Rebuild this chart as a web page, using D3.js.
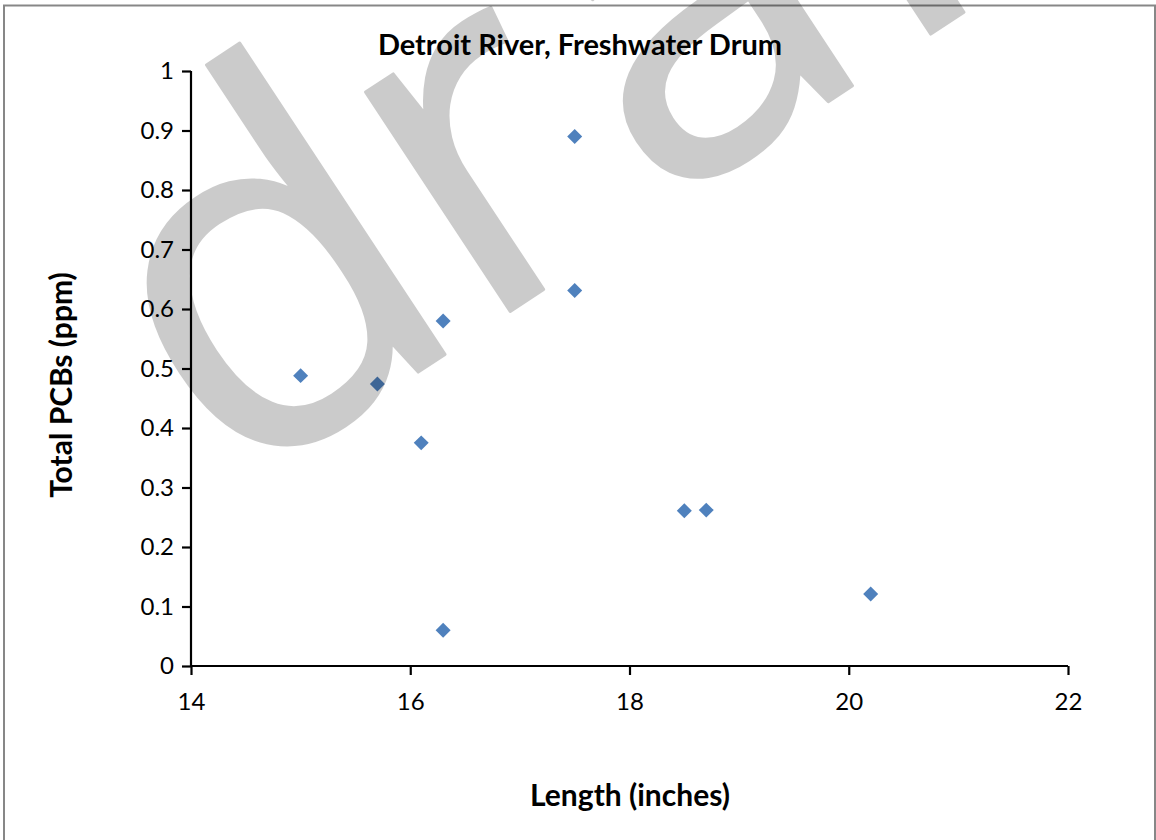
<!DOCTYPE html>
<html>
<head>
<meta charset="utf-8">
<script src="https://cdn.jsdelivr.net/npm/d3@7"></script>
<style>
	body { margin: 0; background: #fff; }
	svg { display: block; }
	.chart text { font-family: Lato, "Open Sans", sans-serif; fill: #000; }
	.axis path, .axis line { stroke: #000; stroke-width: 2.2px; }
</style>
</head>
<body>
<svg class="chart"></svg>
<script>

// fish length (inches) and total PCBs (ppm)
const lengths = [15.0, 15.7, 16.1, 16.3, 16.3, 17.5, 17.5, 18.5, 18.7, 20.2]
const pcbs = [0.488, 0.474, 0.375, 0.580, 0.060, 0.890, 0.631, 0.261, 0.262, 0.121]

const xTicks = [14, 16, 18, 20, 22]
const yTicks = [0, 0.1, 0.2, 0.3, 0.4, 0.5, 0.6, 0.7, 0.8, 0.9, 1]

const title = "Detroit River, Freshwater Drum",
			xTitle = "Length (inches)",
			yTitle = "Total PCBs (ppm)",
			stamp = "draft"

const width = 1156,
			height = 840,
			plot = { left: 191, right: 1068, top: 71, bottom: 666 }

var chart = d3.select(".chart")
		.attr("width", width)
		.attr("height", height)

var x = d3.scaleLinear()
	.domain([14, 22])
	.range([plot.left, plot.right])

var y = d3.scaleLinear()
	.domain([0, 1])
	.range([plot.bottom, plot.top])

// outer frame (no bottom edge visible)
chart.append("path")
	.attr("d", "M4,842 V5.5 H1155 V842")
	.attr("fill", "none")
	.attr("stroke", "#878787")
	.attr("stroke-width", 2)

chart.append("text")
	.attr("x", 580)
	.attr("y", 55)
	.attr("text-anchor", "middle")
	.style("font-size", "29px")
	.style("font-weight", "bold")
	.text(title)

chart.append("g")
		.attr("class", "axis")
		.attr("transform", "translate(" + plot.left + ",0)")
		.call(d3.axisLeft(y).tickValues(yTicks).tickSize(9).tickPadding(8).tickFormat(d => d))

chart.append("g")
		.attr("class", "axis")
		.attr("transform", "translate(0," + plot.bottom + ")")
		.call(d3.axisBottom(x).tickValues(xTicks).tickSize(9).tickPadding(18).tickFormat(d => d))

chart.selectAll(".axis .domain")
	.attr("d", function () {
		return d3.select(this.parentNode).attr("transform").indexOf(",0)") > 0
			? "M0," + plot.top + "V" + plot.bottom
			: "M" + plot.left + ",0H" + plot.right
	})

chart.selectAll(".axis text")
	.style("font-size", "24px")
	.attr("fill", "#000")

chart.append("text")
	.attr("x", 630)
	.attr("y", 806)
	.attr("text-anchor", "middle")
	.style("font-size", "30px")
	.style("font-weight", "bold")
	.text(xTitle)

chart.append("text")
	.attr("transform", "translate(72,385) rotate(-90)")
	.attr("text-anchor", "middle")
	.style("font-size", "30px")
	.style("font-weight", "bold")
	.text(yTitle)

var diamond = d3.symbol().type(d3.symbolSquare).size(112)

chart.append("g")
		.attr("class", "points")
	.selectAll("path")
	.data(d3.zip(lengths, pcbs))
	.enter()
	.append("path")
		.attr("d", diamond)
		.attr("fill", "#4f81bd")
		.attr("transform", d => "translate(" + x(d[0]) + "," + y(d[1]) + ") rotate(45)")

// watermark: letters placed so their stems land where the picture has them
var ctx = document.createElement("canvas").getContext("2d")
ctx.font = "100px 'Open Sans'"
const m = ch => ctx.measureText(ch)

var size = 378 / (m("d").actualBoundingBoxAscent / 100),
		k = size / 100

var xd = -m("d").actualBoundingBoxRight * k,
		xr = 73.4 + m("r").actualBoundingBoxLeft * k,
		xa = 489 - m("a").actualBoundingBoxRight * k,
		xf = xa + m("a").width * k,
		xt = xf + m("f").width * k

chart.append("g")
		.attr("opacity", 0.2)
		.attr("transform", "translate(446.7,353.3) rotate(-33.4)")
	.append("text")
		.attr("x", [xd, xr, xa, xf, xt].join(" "))
		.attr("y", 0)
		.style("font-family", "'Open Sans'")
		.style("font-size", size + "px")
		.style("fill", "#000")
		.style("stroke", "#000")
		.style("stroke-width", 3)
		.style("stroke-linejoin", "round")
		.text(stamp)

</script>
</body>
</html>
